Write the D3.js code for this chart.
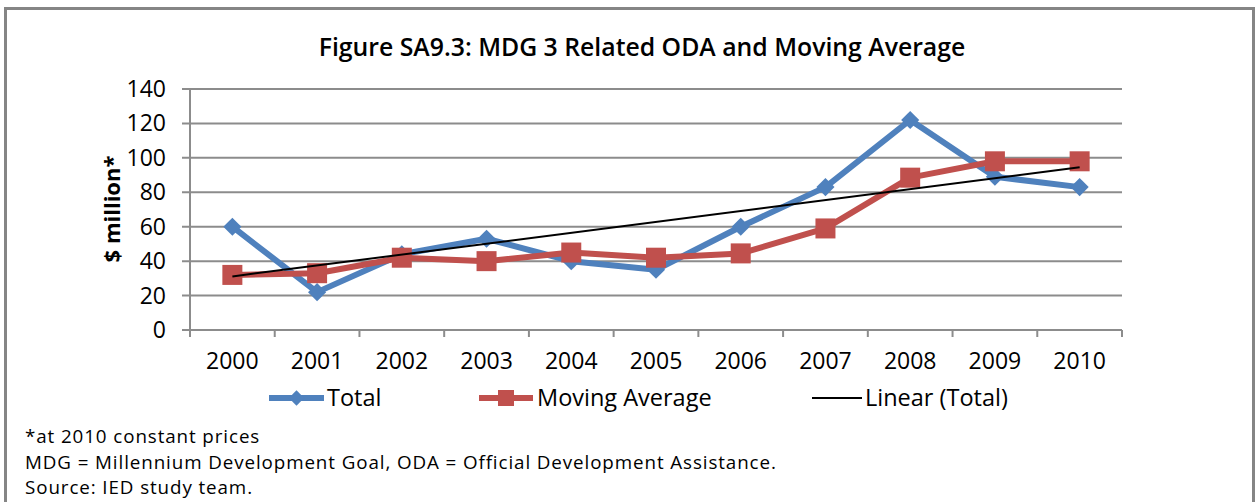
<!DOCTYPE html>
<html><head><meta charset="utf-8">
<script src="https://cdn.jsdelivr.net/npm/d3@7"></script>
<style>body{margin:0;background:#fff;}svg{display:block;}</style>
</head><body>
<svg id="chart" width="1256" height="502"></svg>
<script>
const years = ["2000","2001","2002","2003","2004","2005","2006","2007","2008","2009","2010"];
const total = [60, 22, 44, 53, 40, 35, 60, 83, 122, 89, 83];
const movingAvg = [32, 33, 42, 40, 45, 42, 44.5, 59, 88.5, 98, 98];
const yTicks = [0, 20, 40, 60, 80, 100, 120, 140];
const footnotes = ["*at 2010 constant prices",
  "MDG = Millennium Development Goal, ODA = Official Development Assistance.",
  "Source: IED study team."];

const svg = d3.select("#chart");
const font = "'Open Sans', sans-serif";
const blue = "#4F81BD", red = "#C0504D", grid = "#8c8c8c";

// frame
svg.append("path").attr("d","M5.5,502 V8.5 H1253.5 V502").attr("fill","none").attr("stroke","#858585").attr("stroke-width",3);

svg.append("text").attr("x",642).attr("y",56).attr("text-anchor","middle")
  .attr("font-family",font).attr("font-size",24.8).attr("font-weight",600).attr("fill","#000")
  .text("Figure SA9.3: MDG 3 Related ODA and Moving Average");

const L = 190, R = 1122, T = 89, B = 330;
const x = d3.scaleBand().domain(years).range([L, R]);
const y = d3.scaleLinear().domain([0, 140]).range([B, T]);

// gridlines
svg.append("g").selectAll("line").data(yTicks).join("line")
  .attr("x1", L - 8).attr("x2", R).attr("y1", d => y(d)).attr("y2", d => y(d))
  .attr("stroke", grid).attr("stroke-width", 2);
// y axis line
svg.append("line").attr("x1",L).attr("x2",L).attr("y1",T).attr("y2",B).attr("stroke",grid).attr("stroke-width",2);
// x ticks
const xEdges = years.map(d => x(d)).concat([R]);
svg.append("g").selectAll("line").data(xEdges).join("line")
  .attr("x1", d => d).attr("x2", d => d).attr("y1", B).attr("y2", B + 7)
  .attr("stroke", grid).attr("stroke-width", 2);

// y tick labels
svg.append("g").selectAll("text").data(yTicks).join("text")
  .attr("x", L - 24).attr("y", d => y(d) + 8).attr("text-anchor","end")
  .attr("font-family",font).attr("font-size",23).attr("fill","#000").text(d => d);
// x labels
svg.append("g").selectAll("text").data(years).join("text")
  .attr("x", d => x(d) + x.bandwidth()/2).attr("y", 369).attr("text-anchor","middle")
  .attr("font-family",font).attr("font-size",23).attr("fill","#000").text(d => d);

// y axis title
svg.append("text").attr("transform","translate(120,209) rotate(-90)").attr("text-anchor","middle")
  .attr("font-family",font).attr("font-size",22).attr("font-weight",700).attr("fill","#000").text("$ million*");

const cx = i => x(years[i]) + x.bandwidth()/2;
const line = d3.line().x((d,i) => cx(i)).y(d => y(d));

// series
svg.append("path").datum(total).attr("d", line).attr("fill","none").attr("stroke",blue).attr("stroke-width",6).attr("stroke-linejoin","round");
svg.append("g").selectAll("path").data(total).join("path")
  .attr("d", d3.symbol().type(d3.symbolDiamond2).size(210)())
  .attr("transform", (d,i) => `translate(${cx(i)},${y(d)})`).attr("fill",blue);

svg.append("path").datum(movingAvg).attr("d", line).attr("fill","none").attr("stroke",red).attr("stroke-width",6).attr("stroke-linejoin","round");
svg.append("g").selectAll("rect").data(movingAvg).join("rect")
  .attr("x",(d,i)=>cx(i)-10).attr("y",d=>y(d)-10).attr("width",20).attr("height",20).attr("fill",red);

// linear trend of total (least squares)
const n = total.length, xs = d3.range(n);
const mx = d3.mean(xs), my = d3.mean(total);
const slope = d3.sum(xs, i => (i-mx)*(total[i]-my)) / d3.sum(xs, i => (i-mx)*(i-mx));
const icpt = my - slope*mx;
svg.append("line").attr("x1",cx(0)).attr("y1",y(icpt)).attr("x2",cx(n-1)).attr("y2",y(icpt+slope*(n-1)))
  .attr("stroke","#000").attr("stroke-width",2);

// legend
const ly = 398;
const lg = svg.append("g").attr("font-family",font).attr("font-size",23.5).attr("fill","#000");
lg.append("line").attr("x1",269).attr("x2",324).attr("y1",ly).attr("y2",ly).attr("stroke",blue).attr("stroke-width",6);
lg.append("path").attr("d", d3.symbol().type(d3.symbolDiamond2).size(150)()).attr("transform",`translate(296.5,${ly})`).attr("fill",blue);
lg.append("text").attr("x",327).attr("y",ly+8).text("Total");
lg.append("line").attr("x1",479).attr("x2",533).attr("y1",ly).attr("y2",ly).attr("stroke",red).attr("stroke-width",6);
lg.append("rect").attr("x",498).attr("y",ly-8).attr("width",16).attr("height",16).attr("fill",red);
lg.append("text").attr("x",537).attr("y",ly+8).text("Moving Average");
lg.append("line").attr("x1",812).attr("x2",862).attr("y1",ly).attr("y2",ly).attr("stroke","#000").attr("stroke-width",2);
lg.append("text").attr("x",865).attr("y",ly+8).text("Linear (Total)");

// footnotes
svg.append("g").selectAll("text").data(footnotes).join("text")
  .attr("x",25).attr("y",(d,i)=>443 + i*25.5).attr("font-family",font).attr("font-size",18.8)
  .attr("letter-spacing",0.9).attr("fill","#000").text(d=>d);
</script>
</body></html>
